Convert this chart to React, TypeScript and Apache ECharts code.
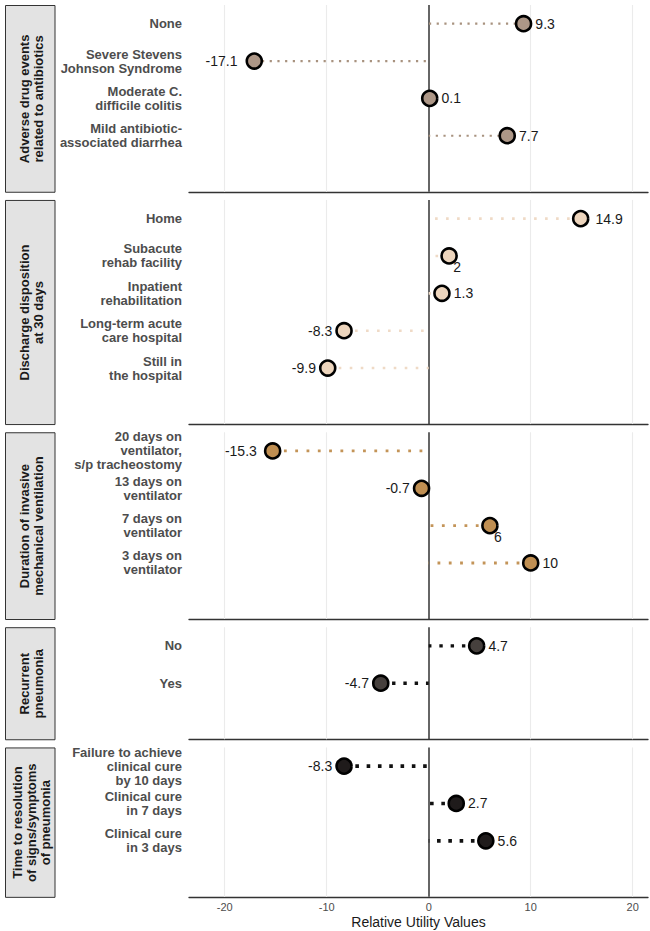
import React, { useEffect, useRef } from "react";
import * as echarts from "echarts";

// Attribute panels, top to bottom
const panelTitles = [
  "Adverse drug events\nrelated to antibiotics",
  "Discharge disposition\nat 30 days",
  "Duration of invasive\nmechanical ventilation",
  "Recurrent\npneumonia",
  "Time to resolution\nof signs/symptoms\nof pneumonia",
];

const adverseLevels = [
  "None",
  "Severe Stevens\nJohnson Syndrome",
  "Moderate C.\ndifficile colitis",
  "Mild antibiotic-\nassociated diarrhea",
];
const adverseValues = [9.3, -17.1, 0.1, 7.7];

const dischargeLevels = [
  "Home",
  "Subacute\nrehab facility",
  "Inpatient\nrehabilitation",
  "Long-term acute\ncare hospital",
  "Still in\nthe hospital",
];
const dischargeValues = [14.9, 2, 1.3, -8.3, -9.9];

const ventilationLevels = [
  "20 days on\nventilator,\ns/p tracheostomy",
  "13 days on\nventilator",
  "7 days on\nventilator",
  "3 days on\nventilator",
];
const ventilationValues = [-15.3, -0.7, 6, 10];

const recurrenceLevels = ["No", "Yes"];
const recurrenceValues = [4.7, -4.7];

const resolutionLevels = [
  "Failure to achieve\nclinical cure\nby 10 days",
  "Clinical cure\nin 7 days",
  "Clinical cure\nin 3 days",
];
const resolutionValues = [-8.3, 2.7, 5.6];

const xTicks = [-20, -10, 0, 10, 20];
const xTitle = "Relative Utility Values";

const panelLevels = [adverseLevels, dischargeLevels, ventilationLevels, recurrenceLevels, resolutionLevels];
const panelValues = [adverseValues, dischargeValues, ventilationValues, recurrenceValues, resolutionValues];

// Styling
const markerFill = ["#ad9787", "#edd5bd", "#c08f52", "#46403d", "#1f1b1b"];
const stemColor = ["#a8927f", "#efdac6", "#c39458", "#111111", "#111111"];
const stemWidth = [2.2, 2.6, 2.8, 3.4, 3.6];
const stemDash = [[2.2, 5.5], [2.6, 8.4], [2.8, 8.5], [3.4, 7.9], [3.6, 7.7]];

// labels pushed below-right of their marker to clear the stems
const belowLabels: Record<string, boolean> = { "1-1": true, "2-2": true };
// extra gap for a few labels
const labelGap: Record<string, number> = { "0-1": 8, "1-0": 6, "2-0": 7 };

const FONT = "'Liberation Sans', Arial, Helvetica, sans-serif";
const W = 650;
const H = 931;
const PLOT_LEFT = 189;
const PLOT_RIGHT = 648;
const UNIT = 37.35;
const GAP = 8.2;
const TOP = 5;

export default function App() {
  const ref = useRef<HTMLDivElement>(null);

  useEffect(() => {
    if (!ref.current) return;
    const chart = echarts.init(ref.current, undefined, { renderer: "svg" });

    const grids: any[] = [];
    const xAxes: any[] = [];
    const yAxes: any[] = [];
    const series: any[] = [];
    const graphics: any[] = [];

    let top = TOP;
    panelLevels.forEach((levels, p) => {
      const height = (levels.length + 1) * UNIT;
      const last = p === panelLevels.length - 1;
      grids.push({ left: PLOT_LEFT, width: PLOT_RIGHT - PLOT_LEFT, top, height, containLabel: false });

      xAxes.push({
        type: "value",
        gridIndex: p,
        min: -23.5,
        max: 21.5,
        splitLine: { show: false },
        axisTick: { show: false },
        axisLine: { show: true, lineStyle: { color: "#333333", width: 1.3 } },
        axisLabel: last
          ? {
              show: true,
              customValues: xTicks,
              color: "#4d4d4d",
              fontSize: 11,
              fontFamily: FONT,
              margin: 5,
            }
          : { show: false },
        name: last ? xTitle : "",
        nameLocation: "middle",
        nameGap: 18,
        nameTextStyle: { color: "#1a1a1a", fontSize: 14, fontFamily: FONT },
      });

      yAxes.push({
        type: "category",
        gridIndex: p,
        inverse: true,
        data: [...levels, ""],
        boundaryGap: true,
        axisLine: { show: false },
        axisTick: { show: false },
        splitLine: { show: false },
        axisLabel: {
          color: "#4d4d4d",
          fontSize: 13,
          fontWeight: "bold",
          fontFamily: FONT,
          lineHeight: 14,
          margin: 7,
          align: "right",
        },
      });

      const vals = panelValues[p];

      // dotted stems from zero to each value, plus panel gridlines
      series.push({
        type: "custom",
        xAxisIndex: p,
        yAxisIndex: p,
        z: 2,
        data: vals.map((v, i) => [v, i]),
        encode: { x: 0, y: 1 },
        renderItem: (_params: any, api: any) => {
          const v = api.value(0);
          const c = api.value(1);
          const a = api.coord([v, c]);
          const b = api.coord([0, c]);
          return {
            type: "line",
            shape: { x1: a[0], y1: a[1], x2: b[0], y2: b[1] },
            style: {
              stroke: stemColor[p],
              lineWidth: stemWidth[p],
              lineDash: stemDash[p],
              fill: null,
            },
          };
        },
        markLine: {
          silent: true,
          symbol: ["none", "none"],
          label: { show: false },
          z: 1,
          data: [
            ...xTicks
              .filter((t) => t !== 0)
              .map((t) => ({ xAxis: t, lineStyle: { color: "#ebebeb", width: 1.1, type: "solid" } })),
            { xAxis: 0, lineStyle: { color: "#333333", width: 1.5, type: "solid" } },
          ],
        },
      });

      series.push({
        type: "scatter",
        xAxisIndex: p,
        yAxisIndex: p,
        z: 5,
        symbol: "circle",
        symbolSize: 15,
        itemStyle: { color: markerFill[p], borderColor: "#000000", borderWidth: 2.6, opacity: 1 },
        data: vals.map((v, i) => {
          const key = `${p}-${i}`;
          const label = belowLabels[key]
            ? { position: "inside", offset: [8, 11], align: "center", verticalAlign: "middle" }
            : { position: v < 0 ? "left" : "right", distance: labelGap[key] ?? 3 };
          return {
            value: [v, i],
            label: {
              show: true,
              ...label,
              formatter: String(v),
              color: "#1a1a1a",
              fontSize: 14,
              fontFamily: FONT,
            },
          };
        }),
      });

      // facet strip on the left
      graphics.push({
        type: "rect",
        shape: { x: 5.5, y: top + 0.5, width: 49.5, height: height },
        style: { fill: "#e3e3e3", stroke: "#333333", lineWidth: 1 },
        z: 10,
      });
      graphics.push({
        type: "text",
        x: 31,
        y: top + height / 2 + 0.5,
        rotation: Math.PI / 2,
        style: {
          text: panelTitles[p],
          align: "center",
          verticalAlign: "middle",
          fontSize: 13,
          fontWeight: "bold",
          lineHeight: 14,
          fontFamily: FONT,
          fill: "#1a1a1a",
        },
        z: 11,
      });

      top += height + GAP;
    });

    chart.setOption({
      animation: false,
      backgroundColor: "#ffffff",
      textStyle: { fontFamily: FONT },
      grid: grids,
      xAxis: xAxes,
      yAxis: yAxes,
      series,
      graphic: graphics,
    });

    return () => chart.dispose();
  }, []);

  return (
    <div
      ref={ref}
      style={{ position: "fixed", left: 0, top: 0, width: W, height: H, background: "#ffffff" }}
    />
  );
}
